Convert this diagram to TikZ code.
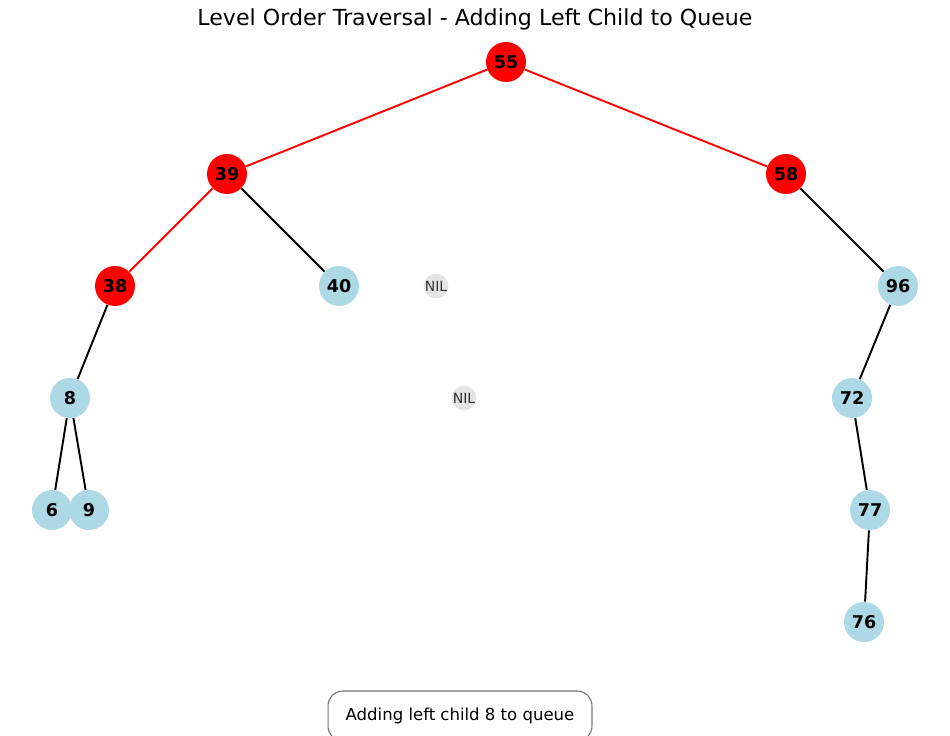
\documentclass[tikz,border=0pt]{standalone}
\usepackage{fontspec}
\setmainfont{DejaVu Sans}
\usepackage{tikz}
\usetikzlibrary{positioning}
\definecolor{lblue}{RGB}{173,216,230}
\definecolor{nilgray}{RGB}{228,228,228}
\tikzset{tnode/.style = {circle, fill = lblue, inner sep = 0, minimum size = 0.8cm, font = \fontsize{10}{12}\selectfont\bfseries}}
\tikzset{hnode/.style = {tnode, fill = red}}
\tikzset{nilnode/.style = {circle, fill = nilgray, inner sep = 0, minimum size = 0.48cm, text = black!80, font = \fontsize{8}{9}\selectfont}}
\tikzset{tedge/.style = {line width = 1.1pt}}

\begin{document}
\begin{tikzpicture}[x = 0.02cm, y = -0.02cm]
      \clip (0, 0) rectangle (950, 736);
      \fill [white] (0, 0) rectangle (950, 736);
      \node [font = \fontsize{12.6}{15}\selectfont] (title) at (475, 19) {Level Order Traversal - Adding Left Child to Queue};
      % tree
      \node [hnode] (n55) at (506, 62) {55};
      \node [hnode] (n39) at (227, 174) {39};
      \node [hnode] (n58) at (786, 174) {58};
      \node [hnode] (n38) at (115, 286) {38};
      \node [tnode] (n40) at (339, 286) {40};
      \node [nilnode] (nilA) at (436, 286) {NIL};
      \node [tnode] (n96) at (898, 286) {96};
      \node [tnode] (n8) at (70, 398) {8};
      \node [nilnode] (nilB) at (464, 398) {NIL};
      \node [tnode] (n72) at (852, 398) {72};
      \node [tnode] (n6) at (52, 510) {6};
      \node [tnode] (n9) at (89, 510) {9};
      \node [tnode] (n77) at (870, 510) {77};
      \node [tnode] (n76) at (864, 622) {76};
      \foreach \a/\b in {n55/n39, n55/n58, n39/n38} {
        \draw [tedge, red] (\a) -- (\b);
      }
      \foreach \a/\b in {n39/n40, n58/n96, n38/n8, n8/n6, n8/n9, n96/n72, n72/n77, n77/n76} {
        \draw [tedge] (\a) -- (\b);
      }
      % status box
      \node [draw = black!55, line width = 0.6pt, rounded corners = 0.3cm, minimum width = 5.28cm, minimum height = 1cm, font = \fontsize{9.4}{11}\selectfont] (status) at (460, 716) {Adding left child 8 to queue};
    \end{tikzpicture}
\end{document}
